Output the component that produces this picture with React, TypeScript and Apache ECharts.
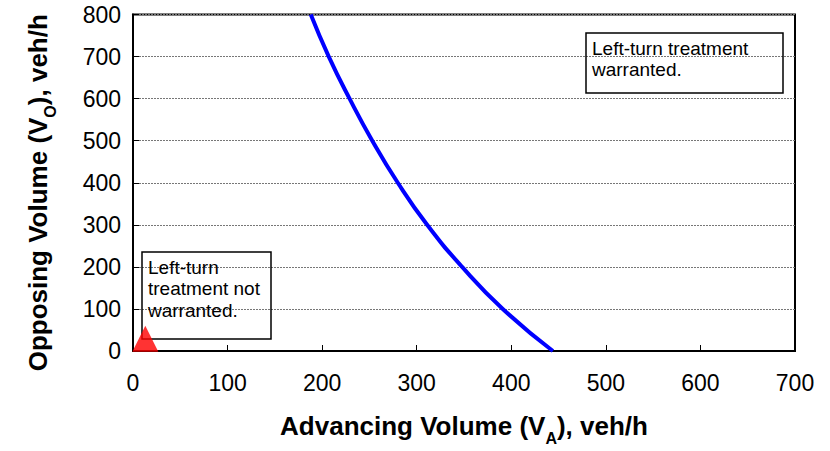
import React, { useEffect, useRef } from "react";
import * as echarts from "echarts";

const curveX: number[] = [188, 207, 229, 253, 280, 311, 348, 391, 444];
const curveY: number[] = [800, 700, 600, 500, 400, 300, 200, 100, 0];
const markerPoint: number[] = [13, 29];
const xTicks = { min: 0, max: 700, interval: 100 };
const yTicks = { min: 0, max: 800, interval: 100 };
const xTitle = ["Advancing Volume (V", "A", "), veh/h"];
const yTitle = ["Opposing Volume (V", "O", "), veh/h"];
const noteWarranted = ["Left-turn treatment", "warranted."];
const noteNotWarranted = ["Left-turn", "treatment not", "warranted."];

const FONT = "Liberation Sans, Arial, sans-serif";

export default function App() {
  const ref = useRef<HTMLDivElement>(null);
  useEffect(() => {
    document.body.style.margin = "0";
    if (!ref.current) return;
    const chart = echarts.init(ref.current, null, { renderer: "svg" });
    const rich = {
      b: { fontFamily: FONT, fontWeight: "bold", fontSize: 26, color: "#000" },
      s: {
        fontFamily: FONT,
        fontWeight: "bold",
        fontSize: 16,
        color: "#000",
        verticalAlign: "bottom",
        lineHeight: 16,
        padding: [0, 0, -7, 0],
      },
    };
    chart.setOption({
      animation: false,
      backgroundColor: "#fff",
      grid: {
        left: 133,
        right: 35,
        top: 14.5,
        bottom: 95.5,
        show: true,
        borderColor: "#000",
        borderWidth: 2,
        backgroundColor: "transparent",
      },
      xAxis: {
        type: "value",
        min: xTicks.min,
        max: xTicks.max,
        interval: xTicks.interval,
        axisLine: { show: true, onZero: false, lineStyle: { color: "#000", width: 2 } },
        axisTick: { show: true, inside: true, length: 6, lineStyle: { color: "#000", width: 1 } },
        axisLabel: { fontFamily: FONT, fontSize: 23, color: "#000", margin: 20 },
        splitLine: { show: false },
        name: `{b|${xTitle[0]}}{s|${xTitle[1]}}{b|${xTitle[2]}}`,
        nameLocation: "middle",
        nameGap: 62,
        nameTextStyle: { rich },
      },
      yAxis: {
        type: "value",
        min: yTicks.min,
        max: yTicks.max,
        interval: yTicks.interval,
        axisLine: { show: true, onZero: false, lineStyle: { color: "#000", width: 2 } },
        axisTick: { show: true, inside: true, length: 6, lineStyle: { color: "#000", width: 1 } },
        axisLabel: { fontFamily: FONT, fontSize: 23, color: "#000", margin: 12 },
        splitLine: { show: true, lineStyle: { color: "#777", width: 1, type: [2, 1] } },
        name: `{b|${yTitle[0]}}{s|${yTitle[1]}}{b|${yTitle[2]}}`,
        nameLocation: "middle",
        nameGap: 82,
        nameRotate: 90,
        nameTextStyle: { rich, padding: [0, 20, 0, 0] },
      },
      series: [
        {
          type: "line",
          data: curveX.map((x, i) => [x, curveY[i]]),
          smooth: 0.5,
          showSymbol: false,
          lineStyle: { color: "#0000FF", width: 4 },
          z: 3,
        },
        {
          type: "scatter",
          data: [markerPoint],
          symbol: "triangle",
          symbolSize: 26,
          itemStyle: { color: "#FF0000" },
          clip: false,
          z: 5,
        },
      ],
      graphic: [
        {
          type: "rect",
          shape: { x: 586, y: 33, width: 197, height: 60 },
          style: { fill: "transparent", stroke: "#000", lineWidth: 1.5 },
          z: 10,
        },
        {
          type: "text",
          x: 592,
          y: 38,
          style: {
            text: noteWarranted.join("\n"),
            fontFamily: FONT,
            fontSize: 19,
            lineHeight: 21,
            fill: "#000",
          },
          z: 10,
        },
        {
          type: "rect",
          shape: { x: 142, y: 252, width: 129, height: 87 },
          style: { fill: "transparent", stroke: "#000", lineWidth: 1.5 },
          z: 4,
        },
        {
          type: "text",
          x: 148,
          y: 257,
          style: {
            text: noteNotWarranted.join("\n"),
            fontFamily: FONT,
            fontSize: 19,
            lineHeight: 21.3,
            fill: "#000",
          },
          z: 4,
        },
      ],
    });
    return () => chart.dispose();
  }, []);
  return <div ref={ref} style={{ width: 830, height: 451 }} />;
}
